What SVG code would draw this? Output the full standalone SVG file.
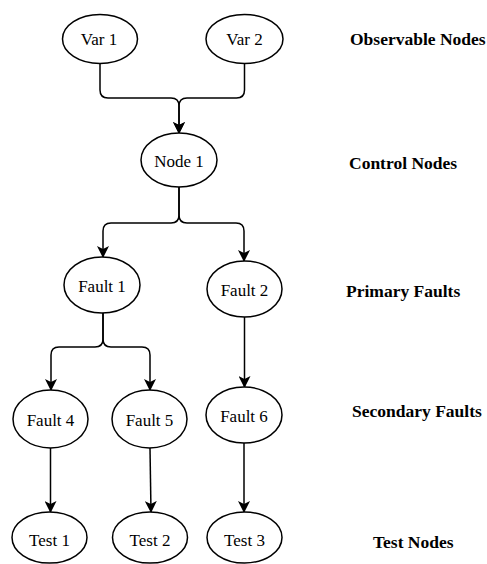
<svg xmlns="http://www.w3.org/2000/svg" width="487" height="564" viewBox="0 0 487 564">
  <style>
    .node ellipse { fill: #ffffff; stroke: #000000; stroke-width: 1.5; }
    .node text { font-size: 17px; fill: #000000; text-anchor: middle; }
    .edge { fill: none; stroke: #000000; stroke-width: 1.5; marker-end: url(#arrow); }
    .label { font-size: 17.5px; font-weight: bold; fill: #000000; }
  </style>
  <defs>
    <marker id="arrow" viewBox="0 0 12 12" refX="11" refY="6" markerWidth="12" markerHeight="12" markerUnits="userSpaceOnUse" orient="auto">
      <path d="M0,0 L12,6 L0,12 L3,6 Z" fill="#000000"/>
    </marker>
  </defs>
  <rect width="487" height="564" fill="#ffffff"/>

  <!-- connectors -->
  <g id="connectors">
    <path class="edge" d="M100,64 V90 Q100,98 108,98 H171 Q179,98 179,106 V133"/>
    <path class="edge" d="M244.5,64 V90 Q244.5,98 236.5,98 H187 Q179,98 179,106 V133"/>
    <path class="edge" d="M179,187 V215 Q179,223 171,223 H111 Q103,223 103,231 V257"/>
    <path class="edge" d="M179,187 V215 Q179,223 187,223 H236 Q244,223 244,231 V261"/>
    <path class="edge" d="M103,313 V339 Q103,347 95,347 H59 Q51,347 51,355 V390"/>
    <path class="edge" d="M103,313 V339 Q103,347 111,347 H142 Q150,347 150,355 V390"/>
    <path class="edge" d="M244.5,317 V387"/>
    <path class="edge" d="M50.5,448 V512"/>
    <path class="edge" d="M150,448 L151,512"/>
    <path class="edge" d="M244,443 V512"/>
  </g>

  <g font-family="'Liberation Serif', 'DejaVu Serif', serif">
  <!-- observable nodes -->
  <g id="var1" class="node"><ellipse cx="100" cy="39" rx="37.5" ry="24.5"/><text x="99" y="45">Var 1</text></g>
  <g id="var2" class="node"><ellipse cx="244.5" cy="39" rx="38.5" ry="24.5"/><text x="244.5" y="45">Var 2</text></g>

  <!-- control nodes -->
  <g id="node1" class="node"><ellipse cx="179" cy="160" rx="38" ry="27"/><text x="179" y="167">Node 1</text></g>

  <!-- primary faults -->
  <g id="fault1" class="node"><ellipse cx="102" cy="285" rx="38" ry="28"/><text x="102" y="292">Fault 1</text></g>
  <g id="fault2" class="node"><ellipse cx="244.5" cy="289" rx="37.5" ry="28"/><text x="244.5" y="296">Fault 2</text></g>

  <!-- secondary faults -->
  <g id="fault4" class="node"><ellipse cx="50.5" cy="419" rx="37.5" ry="29"/><text x="50.5" y="426">Fault 4</text></g>
  <g id="fault5" class="node"><ellipse cx="149.5" cy="419" rx="37.5" ry="29"/><text x="149.5" y="426">Fault 5</text></g>
  <g id="fault6" class="node"><ellipse cx="244" cy="415" rx="38" ry="28"/><text x="244" y="422">Fault 6</text></g>

  <!-- test nodes -->
  <g id="test1" class="node"><ellipse cx="49.5" cy="537.5" rx="37.5" ry="25.5"/><text x="49.5" y="546">Test 1</text></g>
  <g id="test2" class="node"><ellipse cx="150" cy="537.5" rx="37.5" ry="25.5"/><text x="150" y="546">Test 2</text></g>
  <g id="test3" class="node"><ellipse cx="244.5" cy="537.5" rx="37.5" ry="25.5"/><text x="244.5" y="546">Test 3</text></g>
  </g>

  <!-- level labels -->
  <g id="labels" font-family="'Liberation Serif', 'DejaVu Serif', serif">
    <text class="label" x="350" y="45">Observable Nodes</text>
    <text class="label" x="349" y="169">Control Nodes</text>
    <text class="label" x="346" y="297">Primary Faults</text>
    <text class="label" x="352" y="417">Secondary Faults</text>
    <text class="label" x="373" y="548">Test Nodes</text>
  </g>
</svg>
